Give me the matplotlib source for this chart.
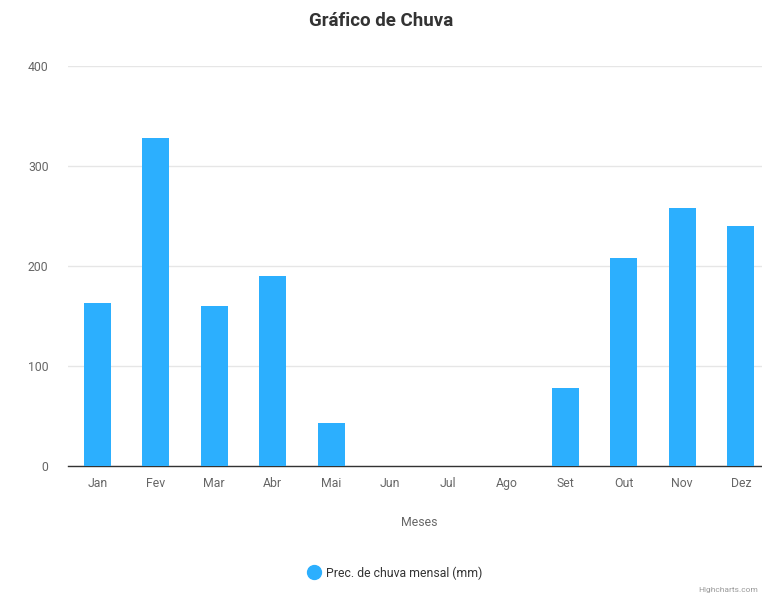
import matplotlib
matplotlib.use('Agg')
import matplotlib.pyplot as plt
from matplotlib.lines import Line2D

# Data
meses = ['Jan', 'Fev', 'Mar', 'Abr', 'Mai', 'Jun', 'Jul', 'Ago', 'Set', 'Out', 'Nov', 'Dez']
chuva = [163, 328, 160, 190, 43, 0, 0, 0, 78, 208, 258, 240]
y_ticks = [0, 100, 200, 300, 400]

plt.rcParams['font.family'] = ['Roboto', 'DejaVu Sans']

fig = plt.figure(figsize=(7.62, 6.05), dpi=100)
ax = fig.add_axes([68 / 762, 139 / 605, 702 / 762, 400 / 605])

x = range(len(meses))
ax.bar(x, chuva, width=0.47, color='#2caffe', zorder=3)

ax.set_xlim(-0.5, len(meses) - 0.5)
ax.set_ylim(0, 400)
ax.set_yticks(y_ticks)
ax.set_xticks(list(x))
ax.set_xticklabels(meses)

ax.grid(axis='y', color='#e6e6e6', linewidth=1, zorder=0)
for s in ['top', 'right', 'left']:
    ax.spines[s].set_visible(False)
ax.spines['bottom'].set_color('#333333')
ax.spines['bottom'].set_linewidth(1)
ax.tick_params(axis='both', length=0, labelsize=8.8, colors='#666666')
ax.tick_params(axis='x', pad=8)
ax.tick_params(axis='y', pad=14)

ax.set_xlabel('Meses', fontsize=8.8, color='#666666', labelpad=19)
fig.text(0.5, 0.965, 'Gráfico de Chuva', ha='center', va='center',
         fontsize=13.5, fontweight='bold', color='#333333')

# legend
handle = Line2D([], [], marker='o', linestyle='none', markersize=10,
                markerfacecolor='#2caffe', markeredgecolor='#2caffe')
leg = ax.legend([handle], ['Prec. de chuva mensal (mm)'], loc='center',
                bbox_to_anchor=(395 / 762, 1 - 573 / 605), bbox_transform=fig.transFigure,
                frameon=False, fontsize=8.8, handlelength=1.0, handletextpad=0.5)
for t in leg.get_texts():
    t.set_color('#333333')

fig.text(0.995, 0.02, 'Highcharts.com', ha='right', va='bottom', fontsize=6, color='#999999')

fig.savefig('out.png', dpi=100)
